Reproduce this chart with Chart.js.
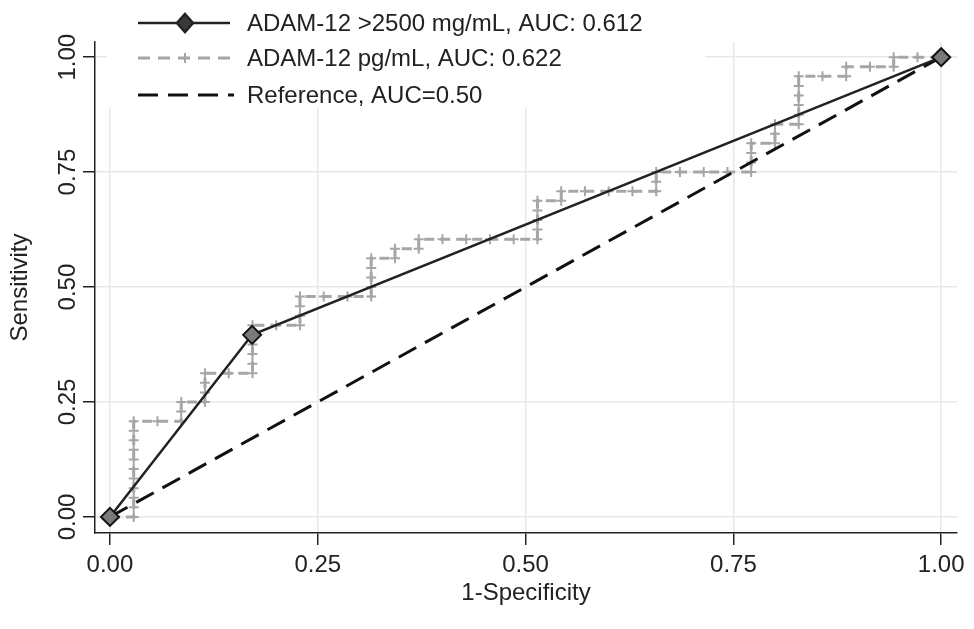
<!DOCTYPE html>
<html lang="en">
<head>
    <meta charset="UTF-8">
    <title>ROC ADAM-12</title>
    <script src="https://cdn.jsdelivr.net/npm/chart.js"></script>
    <style>
        body {
            margin: 0;
            background-color: #ffffff;
        }
    </style>
</head>
<body>
    <canvas id="rocChart" width="974" height="629"></canvas>
    <script type="text/javascript">
        // legend texts
        const seriesLabels = ['ADAM-12 >2500 mg/mL, AUC: 0.612', 'ADAM-12 pg/mL, AUC: 0.622', 'Reference, AUC=0.50'];

        // binary cut-off (>2500) : 1-specificity / sensitivity
        const cutFpr = [0, 0.171, 1];
        const cutTpr = [0, 0.396, 1];

        // continuous ADAM-12 : counts of false positives (of 35) and true positives (of 48)
        const nNeg = 35;
        const nPos = 48;
        const fpCount = [0, 1, 1, 1, 1, 1, 1, 1, 1, 1, 1, 1,
            2, 3, 3, 3, 4, 4, 4, 4, 5, 6, 6, 6, 6, 6, 6,
            7, 8, 8, 8, 8, 9, 10, 11, 11, 11, 11, 11, 12, 12, 13, 13,
            14, 15, 16, 17, 18, 18, 18, 18, 18, 19, 19, 20, 21, 22, 23, 23, 23,
            24, 25, 26, 27, 27, 27, 27, 28, 28, 28, 29, 29, 29, 29, 29, 29, 30, 31, 31, 32, 33, 33, 34, 35];
        const tpCount = [0, 0, 1, 2, 3, 4, 5, 6, 7, 8, 9, 10,
            10, 10, 11, 12, 12, 13, 14, 15, 15, 15, 16, 17, 18, 19, 20,
            20, 20, 21, 22, 23, 23, 23, 23, 24, 25, 26, 27, 27, 28, 28, 29,
            29, 29, 29, 29, 29, 30, 31, 32, 33, 33, 34, 34, 34, 34, 34, 35, 36,
            36, 36, 36, 36, 37, 38, 39, 39, 40, 41, 41, 42, 43, 44, 45, 46, 46, 46, 47, 47, 47, 48, 48, 48];

        // reference diagonal
        const refFpr = [0, 1];
        const refTpr = [0, 1];

        // axis ticks
        const tickValues = [0, 0.25, 0.5, 0.75, 1];
        const tickLabels = ['0.00', '0.25', '0.50', '0.75', '1.00'];

        const FONT = '"Liberation Sans", Arial, sans-serif';
        const GREY = '#a6a6a6';
        const GRID = '#e8e8e8';

        function toPoints(xs, ys) {
            return xs.map((x, i) => ({ x: x, y: ys[i] }));
        }

        const stepPoints = fpCount.map((f, i) => ({ x: f / nNeg, y: tpCount[i] / nPos }));

        // white legend box at the top, plus rotated y tick labels
        const stataExtras = {
            id: 'stataExtras',
            afterDraw(chart) {
                const ctx = chart.ctx;
                const yScale = chart.scales.y;
                ctx.save();

                // y tick labels, reading upwards
                ctx.fillStyle = '#222';
                ctx.font = '24px ' + FONT;
                ctx.textAlign = 'center';
                ctx.textBaseline = 'middle';
                tickValues.forEach((v, i) => {
                    const py = yScale.getPixelForValue(v);
                    ctx.save();
                    ctx.translate(68, py);
                    ctx.rotate(-Math.PI / 2);
                    ctx.fillText(tickLabels[i], 0, 0);
                    ctx.restore();
                });

                // legend
                ctx.fillStyle = '#ffffff';
                ctx.fillRect(107, 0, 598, 107);
                const rows = [23, 58, 95];
                const x0 = 138, x1 = 230, xm = 185;

                ctx.lineWidth = 2.5;
                ctx.strokeStyle = '#222';
                ctx.setLineDash([]);
                ctx.beginPath(); ctx.moveTo(x0, rows[0]); ctx.lineTo(x1, rows[0]); ctx.stroke();
                ctx.fillStyle = '#3a3a3a';
                ctx.beginPath();
                ctx.moveTo(xm, rows[0] - 9); ctx.lineTo(xm + 8, rows[0]); ctx.lineTo(xm, rows[0] + 9); ctx.lineTo(xm - 8, rows[0]);
                ctx.closePath(); ctx.fill(); ctx.stroke();

                ctx.strokeStyle = GREY;
                ctx.lineWidth = 3;
                ctx.setLineDash([12, 8]);
                ctx.beginPath(); ctx.moveTo(x0, rows[1]); ctx.lineTo(x1, rows[1]); ctx.stroke();
                ctx.setLineDash([]);
                ctx.lineWidth = 2;
                ctx.beginPath();
                ctx.moveTo(xm - 5, rows[1]); ctx.lineTo(xm + 5, rows[1]);
                ctx.moveTo(xm, rows[1] - 5); ctx.lineTo(xm, rows[1] + 5);
                ctx.stroke();

                ctx.strokeStyle = '#111';
                ctx.lineWidth = 3;
                ctx.setLineDash([20, 10]);
                ctx.beginPath(); ctx.moveTo(x0, rows[2]); ctx.lineTo(x1 + 4, rows[2]); ctx.stroke();
                ctx.setLineDash([]);

                ctx.fillStyle = '#222';
                ctx.textAlign = 'left';
                ctx.font = '24px ' + FONT;
                seriesLabels.forEach((t, i) => ctx.fillText(t, 247, rows[i] + 1));

                ctx.restore();
            }
        };

        const ctx = document.getElementById('rocChart').getContext('2d');
        const rocChart = new Chart(ctx, {
            type: 'scatter',
            data: {
                datasets: [{
                    label: seriesLabels[0],
                    data: toPoints(cutFpr, cutTpr),
                    showLine: true,
                    borderColor: '#222',
                    borderWidth: 2.5,
                    pointStyle: 'rectRot',
                    pointRadius: 9,
                    pointBackgroundColor: '#7a7a7a',
                    pointBorderColor: '#111',
                    pointBorderWidth: 2
                }, {
                    label: seriesLabels[2],
                    data: toPoints(refFpr, refTpr),
                    showLine: true,
                    borderColor: '#111',
                    borderWidth: 3,
                    borderDash: [20, 10],
                    pointRadius: 0
                }, {
                    label: seriesLabels[1],
                    data: stepPoints,
                    showLine: true,
                    borderColor: GREY,
                    borderWidth: 3,
                    borderDash: [10, 6],
                    pointStyle: 'cross',
                    pointRadius: 5,
                    pointBorderColor: GREY,
                    pointBorderWidth: 2
                }]
            },
            options: {
                responsive: false,
                animation: false,
                layout: {
                    padding: { left: 0, top: 42, right: 17, bottom: 0 }
                },
                plugins: {
                    legend: { display: false },
                    tooltip: { enabled: false }
                },
                scales: {
                    x: {
                        type: 'linear',
                        min: -0.018,
                        max: 1.019,
                        afterBuildTicks: s => { s.ticks = tickValues.map(v => ({ value: v })); },
                        afterFit: s => { s.height = 96; s.paddingLeft = 0; s.paddingRight = 0; },
                        grid: { color: GRID, lineWidth: 1.5, tickColor: '#222', tickLength: 12, tickWidth: 1.5 },
                        border: { color: '#222', width: 1.5 },
                        ticks: {
                            padding: 6,
                            color: '#222',
                            font: { family: FONT, size: 24 },
                            maxRotation: 0,
                            callback: (v, i) => tickLabels[i]
                        },
                        title: {
                            display: true,
                            text: '1-Specificity',
                            color: '#222',
                            font: { family: FONT, size: 24 },
                            padding: { top: 0, bottom: 21 }
                        }
                    },
                    y: {
                        type: 'linear',
                        min: -0.035,
                        max: 1.033,
                        afterBuildTicks: s => { s.ticks = tickValues.map(v => ({ value: v })); },
                        afterFit: s => { s.width = 95; s.paddingTop = 0; s.paddingBottom = 0; },
                        grid: { color: GRID, lineWidth: 1.5, tickColor: '#222', tickLength: 12, tickWidth: 1.5 },
                        border: { color: '#222', width: 1.5 },
                        ticks: { display: false },
                        title: {
                            display: true,
                            text: 'Sensitivity',
                            color: '#222',
                            font: { family: FONT, size: 24 },
                            padding: { top: 6, bottom: 0 }
                        }
                    }
                }
            },
            plugins: [stataExtras]
        });
    </script>
</body>
</html>
